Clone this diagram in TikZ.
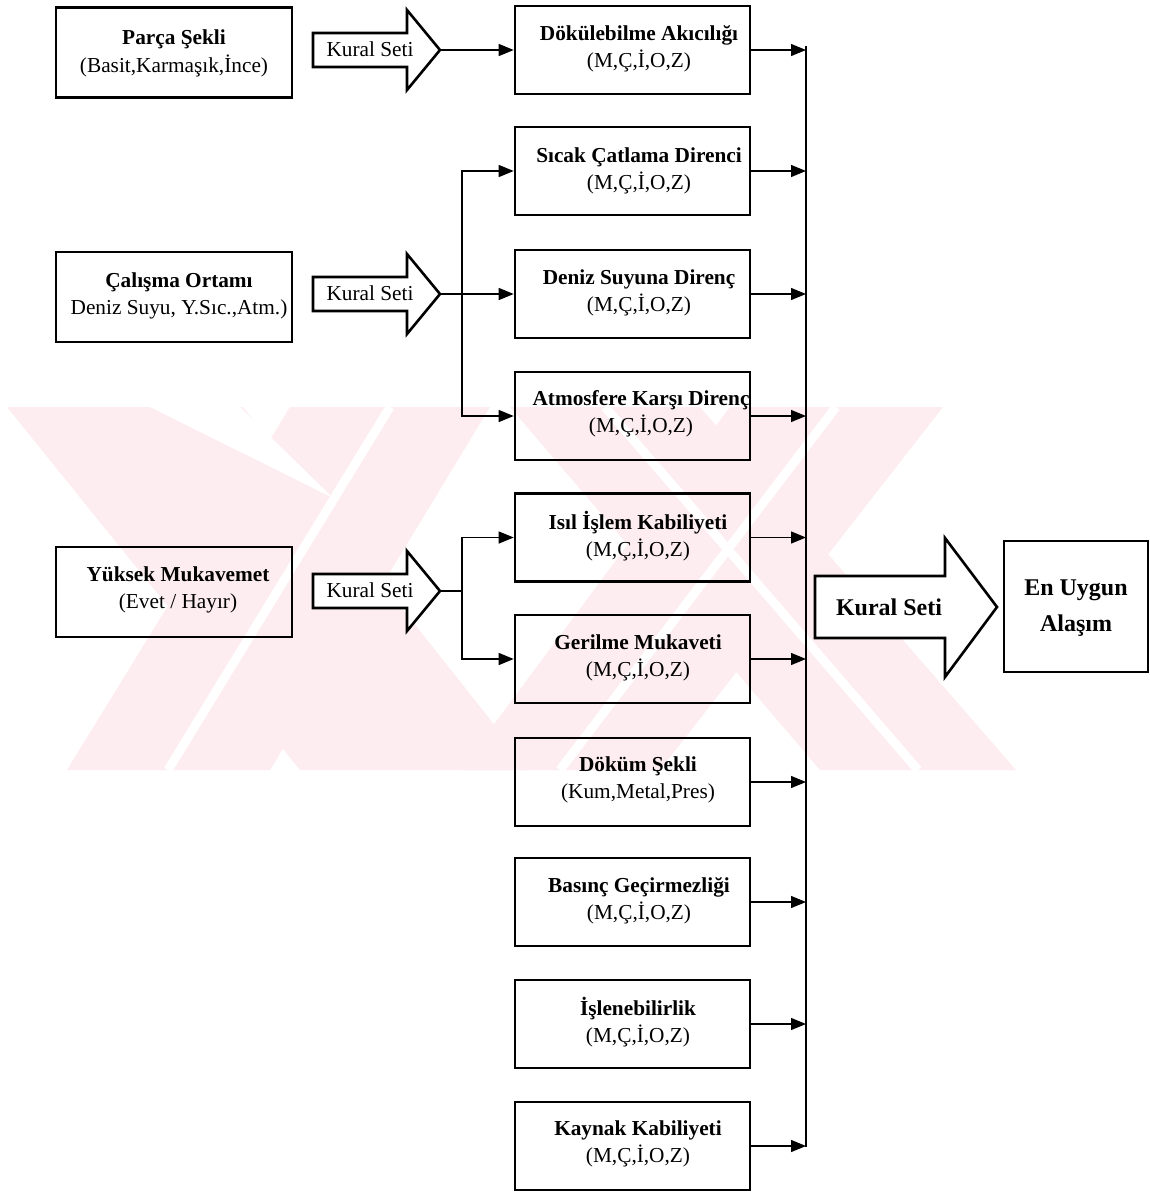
\documentclass[tikz,border=0pt]{standalone}
\usepackage{fontspec}
\setmainfont{Liberation Serif}
\usetikzlibrary{arrows.meta}
\definecolor{wmpink}{RGB}{253,237,240}
\begin{document}
\begin{tikzpicture}[x=1pt,y=-1pt,
  box/.style={draw,line width=2.6pt,minimum width=235pt,minimum height=88pt,inner sep=0pt},
  lbox/.style={draw,line width=2.6pt,minimum width=236pt,minimum height=90pt,inner sep=0pt},
  txt/.style={align=center,font=\fontsize{21.3}{27.5}\selectfont,inner sep=0pt},
  bigtxt/.style={align=center,font=\fontsize{24}{36}\selectfont\bfseries,inner sep=0pt},
  blockarrow/.style={draw,line width=2.6pt,fill=white,line join=miter},
  conn/.style={line width=1.3pt,-{Triangle[length=15pt,width=12pt]}},
  plain/.style={line width=1.3pt},
  busline/.style={line width=1.8pt},
  wm/.style={fill=wmpink,draw=none},
  wmgap/.style={draw=white,line width=9pt}
]
\useasboundingbox (0,0) rectangle (1150,1192);
\fill[white] (0,0) rectangle (1150,1192);

% faint background watermark
\begin{scope}
\clip (0,407) rectangle (1016,770);
\fill[wm] (7,407) -- (243,407) -- (530,770) -- (300,770) -- cycle;
\fill[wm] (67,770) -- (270,770) -- (490,407) -- (290,407) -- cycle;
\fill[wm] (460,770) -- (660,770) -- (943,407) -- (730,407) -- cycle;
\fill[wm] (510,407) -- (700,407) -- (1016,770) -- (820,770) -- cycle;
\fill[white] (150,407) -- (240,407) -- (333,498) -- cycle;
\draw[wmgap] (168,770) -- (390,407);
\draw[wmgap] (560,770) -- (836,407);
\draw[wmgap] (605,407) -- (918,770);
\end{scope}

% left input boxes
\node[lbox] (p1) at (174,52.5) {};
\node[txt] (p1t) at (174,53.5) {\textbf{Parça Şekli}\\(Basit,Karmaşık,İnce)};
\node[lbox] (p2) at (174,297) {};
\node[txt] (p2t) at (179,296) {\textbf{Çalışma Ortamı}\\Deniz Suyu, Y.Sıc.,Atm.)};
\node[lbox] (p3) at (174,592) {};
\node[txt] (p3t) at (178,590) {\textbf{Yüksek Mukavemet}\\(Evet / Hayır)};

% small rule-set block arrows
\foreach \c/\n in {50/k1,294/k2,591/k3}{
  \draw[blockarrow] (313,\c-17) -- (407,\c-17) -- (407,\c-40) -- (440,\c) -- (407,\c+40) -- (407,\c+17) -- (313,\c+17) -- cycle;
  \coordinate (\n tip) at (440,\c);
  \node[txt] (\n) at (370,\c-1) {Kural Seti};
}

% middle property boxes
\node[box] (b1) at (632.5,50) {};
\node[txt] (b1t) at (639,49) {\textbf{Dökülebilme Akıcılığı}\\(M,Ç,İ,O,Z)};
\node[box] (b2) at (632.5,171) {};
\node[txt] (b2t) at (639,171) {\textbf{Sıcak Çatlama Direnci}\\(M,Ç,İ,O,Z)};
\node[box] (b3) at (632.5,294) {};
\node[txt] (b3t) at (639,293) {\textbf{Deniz Suyuna Direnç}\\(M,Ç,İ,O,Z)};
\node[box] (b4) at (632.5,416) {};
\node[txt] (b4t) at (641,414) {\textbf{Atmosfere Karşı Direnç}\\(M,Ç,İ,O,Z)};
\node[box] (b5) at (632.5,537.5) {};
\node[txt] (b5t) at (638,536) {\textbf{Isıl İşlem Kabiliyeti}\\(M,Ç,İ,O,Z)};
\node[box] (b6) at (632.5,659) {};
\node[txt] (b6t) at (638,658) {\textbf{Gerilme Mukaveti}\\(M,Ç,İ,O,Z)};
\node[box] (b7) at (632.5,782) {};
\node[txt] (b7t) at (638,780) {\textbf{Döküm Şekli}\\(Kum,Metal,Pres)};
\node[box] (b8) at (632.5,902) {};
\node[txt] (b8t) at (639,901) {\textbf{Basınç Geçirmezliği}\\(M,Ç,İ,O,Z)};
\node[box] (b9) at (632.5,1024) {};
\node[txt] (b9t) at (638,1022) {\textbf{İşlenebilirlik}\\(M,Ç,İ,O,Z)};
\node[box] (b10) at (632.5,1146) {};
\node[txt] (b10t) at (638,1144) {\textbf{Kaynak Kabiliyeti}\\(M,Ç,İ,O,Z)};

% connectors from rule sets to property boxes
\coordinate (s2) at (462,294);
\coordinate (s3) at (462,591);
\draw[conn] (k1tip) -- (b1.west);
\draw[conn] (k2tip) -- (b3.west);
\draw[conn] (s2) |- (b2.west);
\draw[conn] (s2) |- (b4.west);
\draw[plain] (k3tip) -- (s3);
\draw[conn] (s3) |- (b5.west);
\draw[conn] (s3) |- (b6.west);

% collector bus
\coordinate (bustop) at (806,46);
\coordinate (busbot) at (806,1147);
\draw[busline] (bustop) -- (busbot);
\foreach \b in {b1,b2,b3,b4,b5,b6,b7,b8,b9,b10}{
  \draw[conn] (\b.east) -- (\b.east -| bustop);
}

% big rule-set arrow
\draw[blockarrow] (815,576) -- (945,576) -- (945,538) -- (997,607) -- (945,677) -- (945,638) -- (815,638) -- cycle;
\node[bigtxt] (kbig) at (889,607) {Kural Seti};

% result box
\node[draw,line width=2.6pt,minimum width=144pt,minimum height=131pt,inner sep=0pt] (res) at (1076,606.5) {};
\node[bigtxt] (rest) at (1076,608) {En Uygun\\Alaşım};
\end{tikzpicture}
\end{document}
